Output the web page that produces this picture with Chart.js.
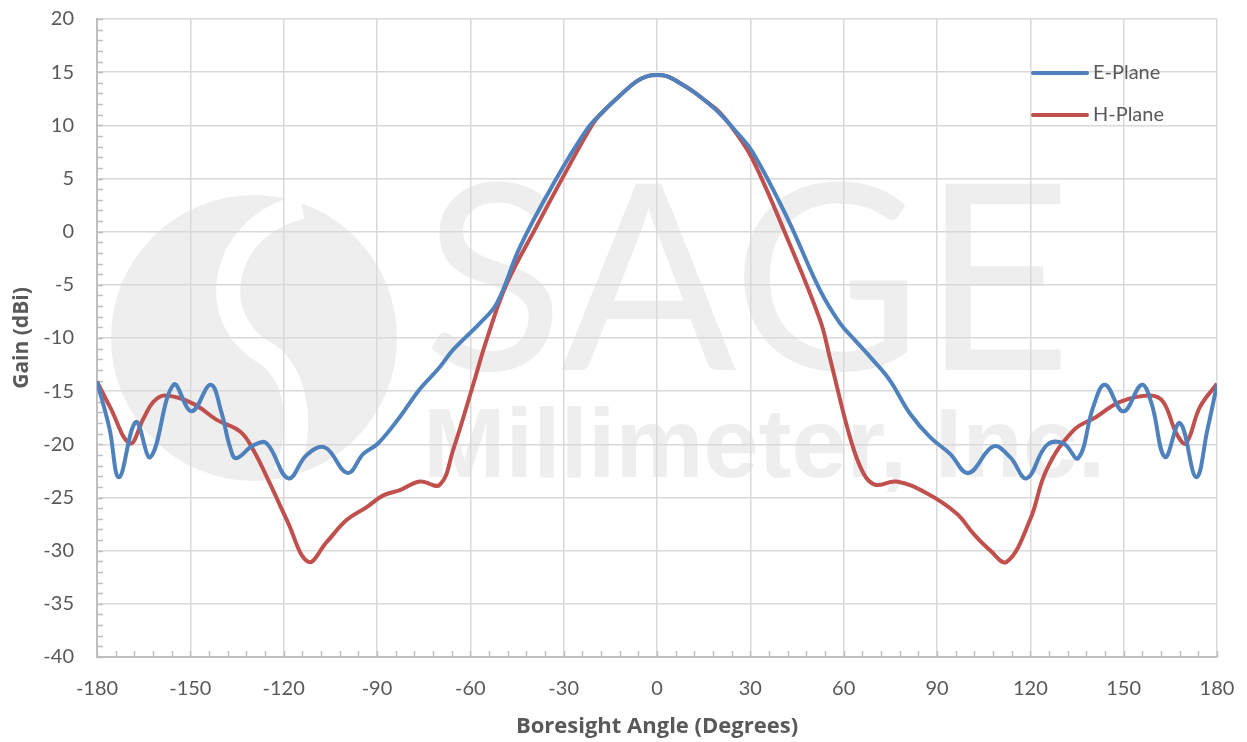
<!DOCTYPE html>
<html>
<head>
<meta charset="utf-8">
<script src="https://cdn.jsdelivr.net/npm/chart.js@4/dist/chart.umd.min.js"></script>
<style>
  html, body { margin: 0; padding: 0; background: #fff; }
  #wrap { width: 1247px; height: 742px; }
</style>
</head>
<body>
<div id="wrap"><canvas id="chart" width="1247" height="742"></canvas></div>
<script>
// tick values
const angleTicks = [-180, -150, -120, -90, -60, -30, 0, 30, 60, 90, 120, 150, 180];
const gainTicks = [-40, -35, -30, -25, -20, -15, -10, -5, 0, 5, 10, 15, 20];

// E-Plane
const eAngle = [-180, -176, -172.9, -167.5, -162.8, -155.4, -149.6, -143.5, -140, -137.3,
  -135.3, -129.8, -125.5, -118.5, -112.6, -106.7, -99.5, -94.4, -89.6, -82.6,
  -76.2, -70, -65.5, -56.9, -51.5, -44, -33.3, -22.6, -17.3, -11.9, -6.7, -3.3, 0,
  3.3, 7.2, 11.6, 16, 20.2, 25.5, 30.9, 41.7, 52.4, 58.8, 63.6, 69.5, 74.9, 81.3,
  87.7, 94.2, 100.1, 108.1, 113.5, 118.8, 125.2, 130.6, 135.4, 140.2,
  144, 149.9, 155.8, 159, 163.3, 168.1, 173.3, 177, 180];
const eGain = [-14.1, -18.5, -23.1, -17.9, -21.2, -14.4, -16.9, -14.4, -17, -20.2,
  -21.3, -20.1, -19.9, -23.2, -21, -20.3, -22.7, -20.9, -19.9, -17.4,
  -14.8, -12.8, -11.1, -8.6, -6.75, -1.4, 4.5, 9.6, 11.3, 12.8, 14.1, 14.6, 14.73,
  14.6, 14.0, 13.2, 12.2, 11.1, 9.4, 7.4, 1.4, -5.5, -8.6, -10.2, -12.1, -14, -17.1,
  -19.3, -20.9, -22.7, -20.2, -21.2, -23.2, -20.1, -19.9, -21.3, -16.5,
  -14.4, -16.9, -14.4, -16.2, -21.2, -18, -23.1, -18.5, -14.4];

// H-Plane
const hAngle = [-180, -175.8, -169.4, -165.1, -161.9, -158.1, -149, -141.5, -134, -129.8,
  -124.4, -119, -112.1, -106.2, -99.7, -93.3, -88, -82.6, -76.2, -69.8,
  -65.5, -59, -54.8, -48.3, -38.7, -30.1, -20.5, -17.3, -11.9, -6.7, -3.3, 0,
  3.3, 7.2, 11.6, 16, 20.2, 25.6, 30.9, 41.7, 52.4, 55.6, 62, 66.3, 70.1, 77, 86.7,
  96.3, 101.7, 107, 112.4, 119.9, 125.2, 133.8, 141.3, 148.8, 158.4,
  162.7, 167, 170, 174.5, 180];
const hGain = [-14.1, -16.5, -19.9, -17.6, -16, -15.4, -16.2, -17.7, -18.8, -20.5,
  -23.7, -27.1, -31.05, -29.2, -27.1, -25.9, -24.8, -24.3, -23.5, -23.8,
  -20.5, -14.3, -10.2, -4.9, 0.5, 5.2, 10.2, 11.3, 12.8, 14.1, 14.6, 14.73,
  14.6, 14.0, 13.2, 12.2, 11.2, 9.2, 6.7, -0.5, -8.3, -11.9, -19.3, -22.7, -23.8, -23.5, -24.6,
  -26.5, -28.4, -29.95, -31.05, -27.1, -22.4, -18.7, -17.4, -16, -15.4,
  -16, -19, -19.9, -16.5, -14.3];

const textColor = '#595959';
const gridColor = '#d9d9d9';
const axisColor = '#bfbfbf';
const FONT = 'Lato, "Open Sans", sans-serif';
const TITLE_FONT = '"Open Sans", Lato, sans-serif';

function pairs(xs, ys) {
  return xs.map((x, i) => ({ x: x, y: ys[i] }));
}

// faint company logo behind the grid
const watermark = {
  id: 'watermark',
  beforeDraw(chart) {
    const ctx = chart.ctx;
    const ca = chart.chartArea;
    const L = ca.left, T = ca.top;
    ctx.save();
    ctx.fillStyle = '#eeeeee';
    // round logo
    const cx = L + 157, cy = T + 319, r = 143;
    ctx.beginPath();
    ctx.arc(cx, cy, r, 0, Math.PI * 2);
    ctx.fill();
    ctx.save();
    ctx.beginPath();
    ctx.arc(cx, cy, r, 0, Math.PI * 2);
    ctx.clip();
    ctx.strokeStyle = '#ffffff';
    ctx.lineWidth = 24;
    ctx.beginPath();
    ctx.moveTo(L + 205, T + 188);
    ctx.bezierCurveTo(L + 125, T + 205, L + 105, T + 300, L + 170, T + 335);
    ctx.bezierCurveTo(L + 205, T + 360, L + 205, T + 420, L + 188, T + 455);
    ctx.stroke();
    ctx.restore();
    // letters
    ctx.fillStyle = '#eeeeee';
    ctx.textBaseline = 'alphabetic';
    ctx.font = '260px Lato, sans-serif';
    ctx.fillText('SAGE', L + 326, T + 351);
    ctx.font = 'bold 99px "Liberation Sans", Arial, sans-serif';
    ctx.fillText('Millimeter, Inc.', L + 326, T + 458);
    ctx.restore();
  }
};

// small inside tick marks on both axes
const minorTicks = {
  id: 'minorTicks',
  beforeDatasetsDraw(chart) {
    const ctx = chart.ctx;
    const xs = chart.scales.x, ys = chart.scales.y;
    const ca = chart.chartArea;
    ctx.save();
    ctx.strokeStyle = axisColor;
    ctx.lineWidth = 1.5;
    ctx.beginPath();
    for (let v = ys.min; v <= ys.max; v += 1) {
      const y = Math.round(ys.getPixelForValue(v)) + 0.5;
      ctx.moveTo(ca.left, y);
      ctx.lineTo(ca.left + 6, y);
    }
    for (let v = xs.min; v <= xs.max; v += 6) {
      const x = Math.round(xs.getPixelForValue(v)) + 0.5;
      ctx.moveTo(x, ca.bottom);
      ctx.lineTo(x, ca.bottom - 6);
    }
    ctx.stroke();
    ctx.restore();
  }
};

// legend drawn inside the plot, top right
const innerLegend = {
  id: 'innerLegend',
  afterDatasetsDraw(chart) {
    const ctx = chart.ctx;
    const ca = chart.chartArea;
    ctx.save();
    ctx.font = '20px ' + FONT;
    ctx.textBaseline = 'middle';
    chart.data.datasets.forEach((ds, i) => {
      const y = ca.top + 54 + i * 42;
      const x0 = ca.right - 184;
      ctx.strokeStyle = ds.borderColor;
      ctx.lineWidth = 4;
      ctx.lineCap = 'round';
      ctx.beginPath();
      ctx.moveTo(x0, y);
      ctx.lineTo(x0 + 54, y);
      ctx.stroke();
      ctx.fillStyle = textColor;
      ctx.fillText(ds.label, x0 + 60, y);
    });
    ctx.restore();
  }
};

new Chart(document.getElementById('chart').getContext('2d'), {
  type: 'line',
  data: {
    datasets: [{
      label: 'E-Plane',
      data: pairs(eAngle, eGain),
      borderColor: '#4F81BD',
      borderWidth: 4,
      pointRadius: 0,
      tension: 0.4,
      fill: false
    }, {
      label: 'H-Plane',
      data: pairs(hAngle, hGain),
      borderColor: '#C0504D',
      borderWidth: 4,
      pointRadius: 0,
      tension: 0.4,
      fill: false
    }]
  },
  options: {
    responsive: false,
    animation: false,
    devicePixelRatio: 1,
    layout: { padding: { left: 0, right: 30, top: 19, bottom: 0 } },
    plugins: {
      legend: { display: false },
      tooltip: { enabled: false }
    },
    scales: {
      x: {
        type: 'linear',
        min: -180,
        max: 180,
        afterBuildTicks: s => { s.ticks = angleTicks.map(v => ({ value: v })); },
        afterFit: s => { s.height = 85; s.paddingLeft = 0; s.paddingRight = 0; },
        grid: { color: gridColor, lineWidth: 1.5, drawTicks: false },
        border: { color: axisColor, width: 2 },
        ticks: { color: textColor, font: { family: FONT, size: 20 }, padding: 20, maxRotation: 0 },
        title: {
          display: true,
          text: 'Boresight Angle (Degrees)',
          color: textColor,
          font: { family: TITLE_FONT, size: 22, weight: 'bold' },
          padding: { top: 0, bottom: 2 }
        }
      },
      y: {
        min: -40,
        max: 20,
        afterBuildTicks: s => { s.ticks = gainTicks.map(v => ({ value: v })); },
        afterFit: s => { s.width = 97; s.paddingTop = 0; s.paddingBottom = 0; },
        grid: { color: gridColor, lineWidth: 1.5, drawTicks: false },
        border: { color: axisColor, width: 2 },
        ticks: { color: textColor, font: { family: FONT, size: 20 }, padding: 23 },
        title: {
          display: true,
          text: 'Gain (dBi)',
          color: textColor,
          font: { family: TITLE_FONT, size: 21, weight: 'bold' },
          padding: { top: 9, bottom: 0 }
        }
      }
    }
  },
  plugins: [watermark, minorTicks, innerLegend]
});
</script>
</body>
</html>
